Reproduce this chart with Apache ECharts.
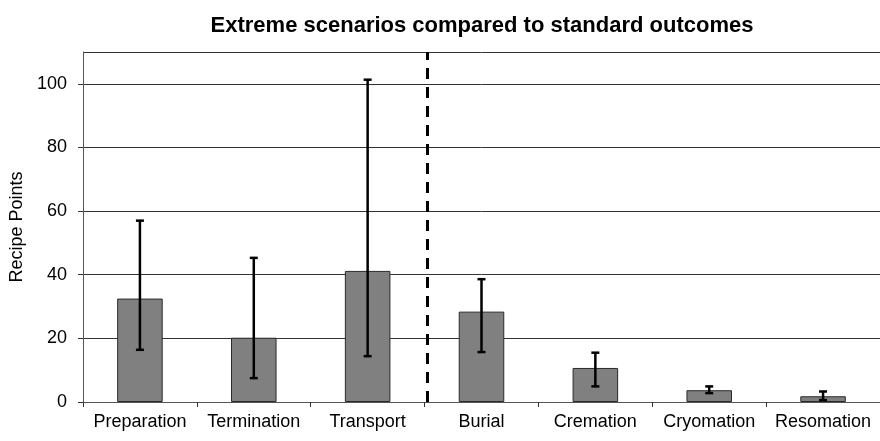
<!DOCTYPE html>
<html>
<head>
<meta charset="utf-8">
<script src="https://cdn.jsdelivr.net/npm/echarts@6/dist/echarts.min.js"></script>
<style>
html, body { margin: 0; padding: 0; background: #fff; }
#chart { width: 880px; height: 441px; }
</style>
</head>
<body>
<div id="chart"></div>
<script>
var categories = ['Preparation', 'Termination', 'Transport', 'Burial', 'Cremation', 'Cryomation', 'Resomation'];
var means = [32.5, 20.2, 41.2, 28.4, 10.7, 3.7, 1.8];
var errLow = [16.4, 7.5, 14.4, 15.7, 4.9, 2.8, 0.6];
var errHigh = [57.0, 45.3, 101.3, 38.6, 15.5, 4.9, 3.3];
var dividerAt = 3.02; // between extreme and standard groups

var chart = echarts.init(document.getElementById('chart'));

var errData = [];
for (var i = 0; i < categories.length; i++) {
	errData.push([i, errLow[i], errHigh[i]]);
}

var font = 'Liberation Sans, Arial, Helvetica, sans-serif';

var option = {
	animation: false,
	title: {
		text: 'Extreme scenarios compared to standard outcomes',
		left: 477,
		top: 10,
		textAlign: 'center',
		textStyle: { fontFamily: font, fontSize: 22, fontWeight: 'bold', color: '#000' }
	},
	grid: { left: 83, right: -3, top: 52, bottom: 39 },
	xAxis: [
		{
			type: 'category',
			data: categories,
			axisLine: { lineStyle: { color: '#555', width: 1 } },
			axisTick: { show: true, length: 5, lineStyle: { color: '#333' } },
			axisLabel: { color: '#000', fontFamily: font, fontSize: 18, margin: 11, interval: 0 },
			splitLine: { show: false }
		},
		{
			type: 'value',
			min: 0,
			max: 7,
			show: false
		}
	],
	yAxis: {
		type: 'value',
		min: 0,
		max: 110,
		interval: 20,
		name: 'Recipe Points',
		nameLocation: 'middle',
		nameGap: 50,
		nameTextStyle: { fontFamily: font, fontSize: 18, color: '#000' },
		axisLine: { show: true, lineStyle: { color: '#555' } },
		axisTick: { show: true, length: 5, lineStyle: { color: '#333' } },
		axisLabel: { color: '#000', fontFamily: font, fontSize: 18, margin: 16, showMaxLabel: false },
		splitLine: { show: true, lineStyle: { color: '#333', width: 1 } }
	},
	series: [
		{
			type: 'bar',
			data: means,
			barWidth: '40%',
			itemStyle: { color: '#808080', borderColor: '#2a2a2a', borderWidth: 1 }
		},
		{
			type: 'custom',
			data: errData,
			z: 10,
			renderItem: function (params, api) {
				var lo = api.coord([api.value(0), api.value(1)]);
				var hi = api.coord([api.value(0), api.value(2)]);
				var half = 4;
				var style = { stroke: '#000', lineWidth: 2.5 };
				return {
					type: 'group',
					children: [
						{ type: 'line', shape: { x1: lo[0], y1: lo[1], x2: hi[0], y2: hi[1] }, style: style },
						{ type: 'line', shape: { x1: lo[0] - half, y1: lo[1], x2: lo[0] + half, y2: lo[1] }, style: style },
						{ type: 'line', shape: { x1: hi[0] - half, y1: hi[1], x2: hi[0] + half, y2: hi[1] }, style: style }
					]
				};
			}
		},
		{
			type: 'line',
			xAxisIndex: 1,
			data: [],
			markLine: {
				silent: true,
				symbol: ['none', 'none'],
				label: { show: false },
				lineStyle: { color: '#000', type: [11, 8], width: 3 },
				data: [{ xAxis: dividerAt }]
			}
		}
	]
};

chart.setOption(option);
</script>
</body>
</html>
